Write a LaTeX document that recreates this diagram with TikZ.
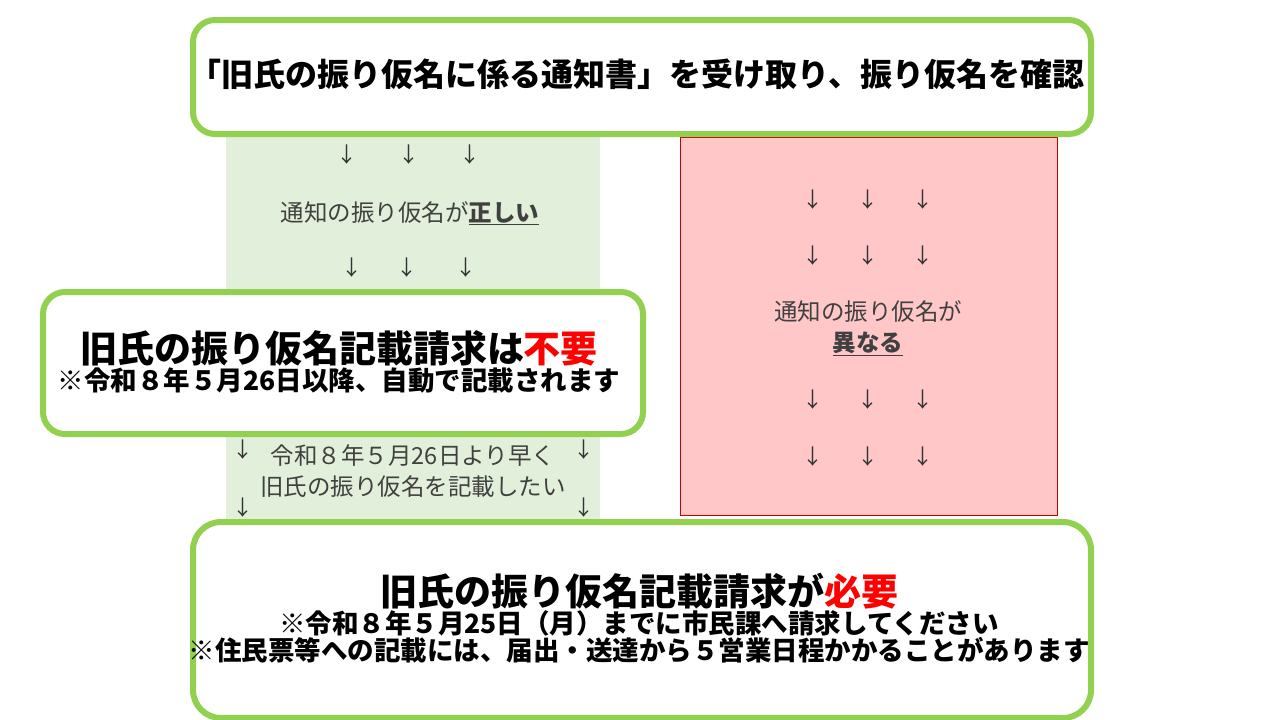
\documentclass[tikz,border=0pt]{standalone}
\usepackage{fontspec}
\setmainfont{Noto Sans CJK JP}
\begin{document}
\begin{tikzpicture}[x=1pt,y=-1pt,
  arr/.style={font=\fontsize{21}{21}\selectfont, text=black!80},
  ptxt/.style={font=\fontsize{23.5}{31}\selectfont, text=black!75, align=center},
  btxt/.style={font=\bfseries, align=center}]
\definecolor{gborder}{HTML}{92D050}
\definecolor{gfill}{HTML}{E2EFDA}
\definecolor{rfill}{HTML}{FFC7C7}
\useasboundingbox (0,0) rectangle (1280,720);
\fill[white] (0,0) rectangle (1280,720);
% panels
\fill[gfill] (226,137) rectangle (600,520);
\filldraw[fill=rfill,draw=red!80!black,line width=0.6pt] (680,137) rectangle (1057,515);
% top box
\node[draw=gborder,line width=6pt,rounded corners=22pt,fill=white,minimum width=898pt,minimum height=114pt,anchor=north west] (top) at (190,17) {};
\node[btxt,font=\fontsize{32}{32}\selectfont\bfseries] (toptxt) at (637,74) {「旧氏の振り仮名に係る通知書」を受け取り、振り仮名を確認};
% left panel contents
\foreach \x in {347,409,470} \node[arr] (la\x) at (\x,155) {↓};
\node[ptxt] (lt) at (410,213) {通知の振り仮名が\textbf{\underline{正しい}}};
\foreach \x in {352,407,466} \node[arr] (lb\x) at (\x,268) {↓};
\foreach \x in {243,584} {\node[arr] (lc\x) at (\x,450) {↓}; \node[arr] (ld\x) at (\x,508) {↓};}
\node[ptxt] (lt2) at (413,471) {令和８年５月26日より早く\\旧氏の振り仮名を記載したい};
% right panel
\foreach \y in {200,256,400,457} \foreach \x in {813,868,923} \node[arr] at (\x,\y) {↓};
\node[ptxt] (rt) at (868,328) {通知の振り仮名が\\\textbf{\underline{異なる}}};
% middle box
\node[draw=gborder,line width=6pt,rounded corners=22pt,fill=white,minimum width=600pt,minimum height=142pt,anchor=north west] (mid) at (40,289) {};
\node[btxt] (midtxt) at (339,362) {{\fontsize{37}{44}\selectfont 旧氏の振り仮名記載請求は\textcolor{red}{不要}}\\{\fontsize{26.5}{30}\selectfont ※令和８年５月26日以降、自動で記載されます}};
% bottom box
\node[draw=gborder,line width=6pt,rounded corners=28pt,fill=white,minimum width=898pt,minimum height=196pt,anchor=north west] (bot) at (190,519) {};
\node[btxt] (bottxt) at (639,618) {{\fontsize{37}{44}\selectfont 旧氏の振り仮名記載請求が\textcolor{red}{必要}}\\{\fontsize{26.5}{40}\selectfont ※令和８年５月25日（月）までに市民課へ請求してください}\\{\fontsize{26.5}{32}\selectfont ※住民票等への記載には、届出・送達から５営業日程かかることがあります}};
\end{tikzpicture}
\end{document}
